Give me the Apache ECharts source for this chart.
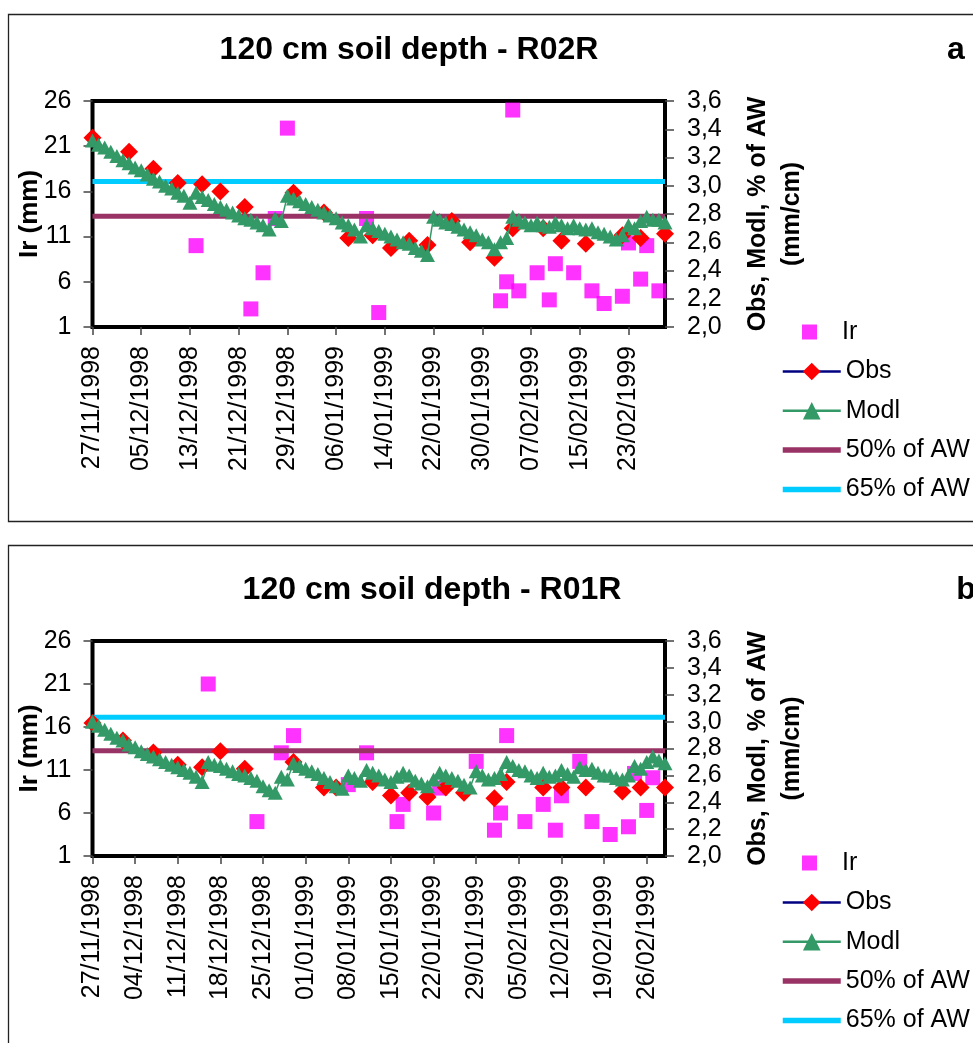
<!DOCTYPE html>
<html>
<head>
<meta charset="utf-8">
<script src="https://cdn.jsdelivr.net/npm/echarts@6/dist/echarts.min.js"></script>
<style>
  html, body { margin: 0; padding: 0; background: #fff; }
  #main { width: 973px; height: 1043px; }
</style>
</head>
<body>
<div id="main"></div>
<script>
// day 0 = 27/11/1998, one category per day up to 01/03/1999
const nDays = 95;
const dates = [];
for (let i = 0; i < nDays; i++) {
  const d = new Date(1998, 10, 27 + i);
  const dd = String(d.getDate()).padStart(2, "0");
  const mm = String(d.getMonth() + 1).padStart(2, "0");
  dates.push(dd + "/" + mm + "/" + d.getFullYear());
}

const irTicks = [1, 6, 11, 16, 21, 26];
const awTicks = [2.0, 2.2, 2.4, 2.6, 2.8, 3.0, 3.2, 3.4, 3.6];

// ---- R02R ----
const modlA = [
  3.32, 3.29, 3.27, 3.24, 3.21, 3.18, 3.16, 3.13, 3.11, 3.08,
  3.05, 3.03, 3.00, 2.98, 2.95, 2.93, 2.88, 2.95, 2.92, 2.90,
  2.87, 2.85, 2.83, 2.81, 2.79, 2.77, 2.76, 2.74, 2.72, 2.69,
  2.77, 2.75, 2.93, 2.91, 2.89, 2.87, 2.85, 2.83, 2.81, 2.79,
  2.77, 2.74, 2.72, 2.69, 2.64, 2.72, 2.70, 2.68, 2.66, 2.64,
  2.62, 2.60, 2.59, 2.56, 2.54, 2.51, 2.78, 2.76, 2.74, 2.73,
  2.71, 2.69, 2.67, 2.65, 2.62, 2.60, 2.55, 2.60, 2.63, 2.78,
  2.76, 2.74, 2.72, 2.74, 2.72, 2.71, 2.74, 2.72, 2.70, 2.72,
  2.70, 2.69, 2.70, 2.67, 2.66, 2.64, 2.62, 2.65, 2.72, 2.70,
  2.75, 2.78, 2.76, 2.76, 2.74
];
const obsDaysA = [0, 6, 10, 14, 18, 21, 25, 33, 38, 42, 46, 49, 52, 55, 59, 62, 66, 69, 74, 77, 81, 87, 90, 94];
const obsA = [3.34, 3.24, 3.12, 3.02, 3.01, 2.96, 2.85, 2.95, 2.81, 2.63, 2.65, 2.56, 2.61, 2.58, 2.75, 2.60, 2.49, 2.70, 2.70, 2.61, 2.59, 2.65, 2.63, 2.66];
const irDaysA = [17, 26, 28, 30, 32, 45, 47, 67, 68, 69, 70, 73, 75, 76, 79, 82, 84, 87, 88, 90, 91, 93];
const irA = [10, 3, 7, 13, 23, 13, 2.6, 3.9, 6, 25, 5, 7, 4, 8, 7, 5, 3.6, 4.4, 10.3, 6.3, 10, 5];
const aw50A = 2.784;
const aw65A = 3.03;

// ---- R01R ----
const modlB = [
  3.00, 2.97, 2.94, 2.91, 2.88, 2.86, 2.83, 2.81, 2.78, 2.76,
  2.74, 2.72, 2.70, 2.68, 2.66, 2.64, 2.62, 2.59, 2.55, 2.70,
  2.68, 2.67, 2.65, 2.63, 2.61, 2.60, 2.58, 2.56, 2.52, 2.49,
  2.47, 2.59, 2.57, 2.69, 2.67, 2.65, 2.63, 2.61, 2.58, 2.55,
  2.52, 2.50, 2.60, 2.58, 2.56, 2.64, 2.62, 2.60, 2.57, 2.55,
  2.59, 2.62, 2.60, 2.56, 2.54, 2.52, 2.57, 2.62, 2.60, 2.58,
  2.56, 2.53, 2.51, 2.63, 2.60, 2.57, 2.58, 2.61, 2.70, 2.67,
  2.64, 2.63, 2.60, 2.58, 2.62, 2.59, 2.60, 2.64, 2.61, 2.59,
  2.66, 2.64, 2.65, 2.62, 2.60, 2.60, 2.58, 2.57, 2.60, 2.67,
  2.65, 2.70, 2.74, 2.71, 2.69
];
const obsDaysB = [0, 5, 10, 14, 18, 21, 25, 33, 38, 40, 46, 49, 52, 55, 58, 61, 66, 68, 74, 77, 81, 87, 90, 94];
const obsB = [2.99, 2.86, 2.77, 2.68, 2.66, 2.78, 2.65, 2.70, 2.51, 2.51, 2.55, 2.45, 2.47, 2.44, 2.51, 2.47, 2.43, 2.55, 2.51, 2.51, 2.51, 2.48, 2.51, 2.51];
const irDaysB = [19, 27, 31, 33, 42, 45, 50, 51, 56, 57, 63, 66, 67, 68, 71, 74, 76, 77, 80, 82, 85, 88, 89, 91, 92];
const irB = [21, 5, 13, 15, 9.3, 13, 5, 7, 6, 8.9, 12, 4, 6, 15, 5, 7, 4, 8, 12, 5, 3.5, 4.4, 10.6, 6.3, 10.1];
const aw50B = 2.784;
const aw65B = 3.032;

const FONT = "Liberation Sans";
const C = {
  ir: "#FF00FF", obs: "#FF0000", obsLine: "#000080", modl: "#339966",
  aw50: "#993366", aw65: "#00CCFF"
};

let myChart = echarts.init(document.getElementById("main"));

function xAxisFor(gi, every) {
  return {
    type: "category", gridIndex: gi, data: dates, boundaryGap: false,
    axisLine: { show: false },
    axisTick: { show: true, interval: every - 1, length: 8, lineStyle: { color: "#444", width: 1.5 } },
    axisLabel: {
      interval: every - 1, rotate: 90, margin: 19,
      fontSize: 25, color: "#000", fontFamily: FONT
    },
    splitLine: { show: false }
  };
}
function leftAxis(gi) {
  return {
    type: "value", gridIndex: gi, position: "left", min: 1, max: 26,
    name: "Ir (mm)", nameLocation: "middle", nameRotate: 90, nameGap: 50, nameMoveOverlap: false,
    nameTextStyle: { fontSize: 26, fontWeight: "bold", color: "#000", fontFamily: FONT },
    axisLine: { show: false },
    axisTick: { show: true, customValues: irTicks, length: 9, lineStyle: { color: "#444", width: 1.5 } },
    axisLabel: { customValues: irTicks, margin: 21, fontSize: 25, color: "#000", fontFamily: FONT },
    splitLine: { show: false }
  };
}
function rightAxis(gi) {
  return {
    type: "value", gridIndex: gi, position: "right", min: 2.0, max: 3.6,
    name: "Obs, Modl, % of AW\n(mm/cm)", nameLocation: "middle", nameRotate: 90, nameGap: 76, nameMoveOverlap: false,
    nameTextStyle: { fontSize: 25, fontWeight: "bold", color: "#000", fontFamily: FONT, lineHeight: 34 },
    axisLine: { show: false },
    axisTick: { show: true, customValues: awTicks, length: 9, lineStyle: { color: "#444", width: 1.5 } },
    axisLabel: {
      customValues: awTicks, margin: 22, fontSize: 25, color: "#000", fontFamily: FONT,
      formatter: (v) => v.toFixed(1).replace(".", ",")
    },
    splitLine: { show: false }
  };
}
function seriesFor(xi, yl, yr, modl, obsDays, obs, irDays, ir, aw50, aw65) {
  return [
    {
      name: "Ir", type: "scatter", xAxisIndex: xi, yAxisIndex: yl,
      symbol: "rect", symbolSize: 15, itemStyle: { color: C.ir }, z: 1,
      data: irDays.map((d, i) => [d, ir[i]])
    },
    {
      name: "50% of AW", type: "line", xAxisIndex: xi, yAxisIndex: yr,
      showSymbol: false, symbol: "none", lineStyle: { color: C.aw50, width: 5 }, itemStyle: { color: C.aw50 }, z: 2,
      data: [[0, aw50], [nDays - 1, aw50]]
    },
    {
      name: "65% of AW", type: "line", xAxisIndex: xi, yAxisIndex: yr,
      showSymbol: false, symbol: "none", lineStyle: { color: C.aw65, width: 5 }, itemStyle: { color: C.aw65 }, z: 2,
      data: [[0, aw65], [nDays - 1, aw65]]
    },
    {
      name: "Obs", type: "line", xAxisIndex: xi, yAxisIndex: yr,
      symbol: "diamond", symbolSize: 18, showAllSymbol: true,
      itemStyle: { color: C.obs }, lineStyle: { color: C.obsLine, width: 0, opacity: 0 }, z: 3,
      data: obsDays.map((d, i) => [d, obs[i]])
    },
    {
      name: "Modl", type: "line", xAxisIndex: xi, yAxisIndex: yr,
      symbol: "triangle", symbolSize: [15, 14], showAllSymbol: true,
      itemStyle: { color: C.modl }, lineStyle: { color: C.modl, width: 1.5 }, z: 4,
      data: modl
    }
  ];
}
function legendsFor(top) {
  const txt = { fontSize: 25, color: "#000", fontFamily: FONT, lineHeight: 25 };
  return [
    {
      orient: "vertical", left: 797, top: top, selectedMode: false,
      itemWidth: 15, itemHeight: 15,
      textStyle: Object.assign({ padding: [0, 0, 0, 20] }, txt), data: ["Ir"]
    },
    {
      orient: "vertical", left: 775, top: top + 39.5, selectedMode: false,
      itemWidth: 58, itemHeight: 22, itemGap: 14.3, textStyle: txt,
      data: [
        { name: "Obs", lineStyle: { color: C.obsLine, width: 2.5, opacity: 1 } },
        { name: "Modl", lineStyle: { color: C.modl, width: 2.5 } },
        { name: "50% of AW", lineStyle: { color: C.aw50, width: 5.5 }, itemStyle: { opacity: 0 } },
        { name: "65% of AW", lineStyle: { color: C.aw65, width: 5.5 }, itemStyle: { opacity: 0 } }
      ]
    }
  ];
}
function textEl(text, x, y) {
  return {
    type: "text", x: x, y: y, silent: true,
    style: { text: text, font: "bold 32px '" + FONT + "'", fill: "#000", textAlign: "center", textVerticalAlign: "middle" }
  };
}

let option = {
  animation: false,
  backgroundColor: "#fff",
  grid: [
    { left: 92.5, top: 101, width: 572.5, height: 226, show: true, borderColor: "#000", borderWidth: 4, backgroundColor: "transparent" },
    { left: 92.5, top: 641, width: 572.5, height: 215, show: true, borderColor: "#000", borderWidth: 4, backgroundColor: "transparent" }
  ],
  xAxis: [xAxisFor(0, 8), xAxisFor(1, 7)],
  yAxis: [leftAxis(0), rightAxis(0), leftAxis(1), rightAxis(1)],
  legend: legendsFor(314.5).concat(legendsFor(845.5)),
  series: seriesFor(0, 0, 1, modlA, obsDaysA, obsA, irDaysA, irA, aw50A, aw65A)
    .concat(seriesFor(1, 2, 3, modlB, obsDaysB, obsB, irDaysB, irB, aw50B, aw65B)),
  graphic: [
    { type: "rect", silent: true, z: -10, shape: { x: 8.5, y: 14.5, width: 1000, height: 507 }, style: { fill: "none", stroke: "#222", lineWidth: 1.3 } },
    { type: "rect", silent: true, z: -10, shape: { x: 8.5, y: 545.5, width: 1000, height: 600 }, style: { fill: "none", stroke: "#222", lineWidth: 1.3 } },
    textEl("120 cm soil depth - R02R", 409, 50),
    textEl("a", 956, 50),
    textEl("120 cm soil depth - R01R", 432, 590),
    textEl("b", 966, 590)
  ]
};
myChart.setOption(option);
</script>
</body>
</html>
